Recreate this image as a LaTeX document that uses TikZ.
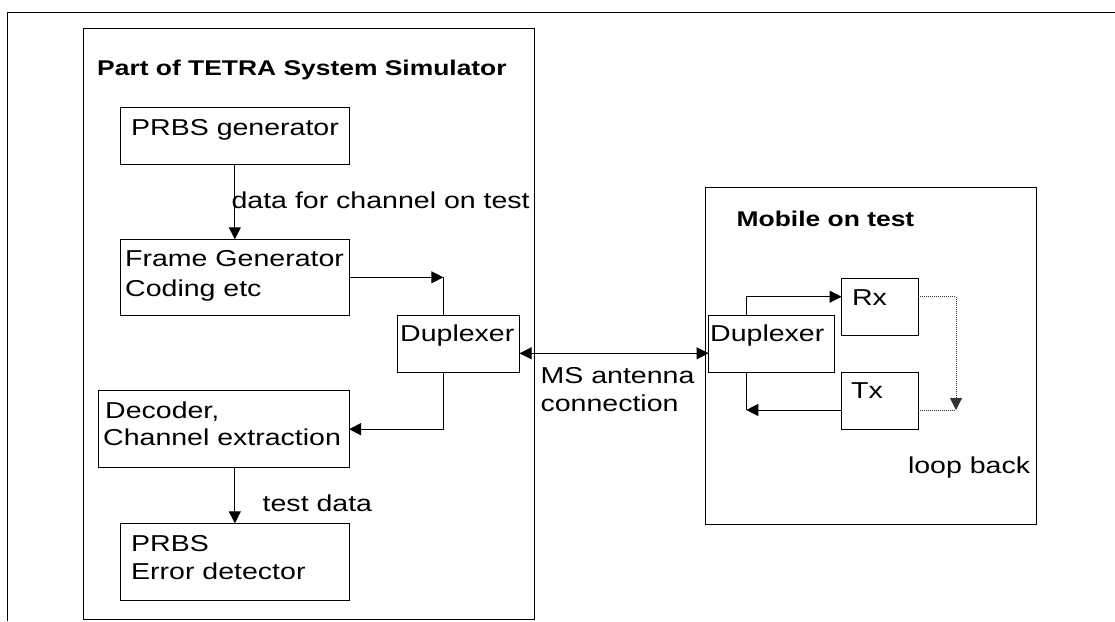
\documentclass[tikz,border=0pt]{standalone}
\usepackage{fontspec}
\setmainfont{Liberation Sans}[FakeStretch=1.24]
\usetikzlibrary{arrows.meta,fit}
\tikzset{
  box/.style={draw, line width=1pt, inner sep=0pt, outer sep=0pt},
  txt/.style={anchor=base west, inner sep=0pt, font=\fontsize{23}{27}\selectfont},
  ttl/.style={anchor=base west, inner sep=0pt, font=\fontsize{21.3}{26}\selectfont\bfseries},
  con/.style={line width=1pt},
  tip/.tip={Triangle[length=12pt,width=12pt]},
  arr/.style={con, -tip},
  darr/.style={con, tip-tip},
  loopline/.style={line width=1pt, densely dotted, black!80}
}
\newcommand{\boxat}[3]{\path (#2) coordinate (#1-a) (#3) coordinate (#1-b);
  \node[box, fit=(#1-a)(#1-b)] (#1) {};}
\begin{document}
\begin{tikzpicture}[x=1pt,y=-1pt]
\useasboundingbox (0,0) rectangle (1115,621);
% outer frame
\coordinate (o1) at (7.5,621);
\coordinate (o2) at (7.5,12.5);
\coordinate (o3) at (1115,12.5);
\draw[con] (o1) -- (o2) -- (o3);
% boxes
\boxat{sim}{83,28}{534.5,619.5}
\boxat{prbs}{120.7,107}{349,164.7}
\boxat{frame}{120.7,239.3}{349,315}
\boxat{dupL}{397.5,315.7}{519.6,372.3}
\boxat{dec}{98.6,390.7}{349,467.7}
\boxat{err}{120.7,523.3}{349,600}
\boxat{mob}{705,187.3}{1036.7,524}
\boxat{dupR}{708.6,315.7}{834.9,372.3}
\boxat{rx}{841.6,278}{918,335}
\boxat{tx}{841.6,372.7}{918,429.3}
% texts
\node[ttl] (simT) at (97,75) {Part of TETRA System Simulator};
\node[txt] (prbsT) at (131,135) {PRBS generator};
\node[txt] (frameT1) at (125,266.7) {Frame Generator};
\node[txt] (frameT2) at (125,296.7) {Coding etc};
\node[txt] (dupLT) at (400,341.7) {Duplexer};
\node[txt] (decT1) at (105,418.3) {Decoder,};
\node[txt] (decT2) at (103,445.7) {Channel extraction};
\node[txt] (errT1) at (131,551.7) {PRBS};
\node[txt] (errT2) at (131,579.3) {Error detector};
\node[txt] (dataL) at (231.4,208.3) {data for channel on test};
\node[txt] (testL) at (262.5,511.7) {test data};
\node[ttl] (mobT) at (736.5,226.7) {Mobile on test};
\node[txt] (dupRT) at (710,341.7) {Duplexer};
\node[txt] (rxT) at (851.8,305) {Rx};
\node[txt] (txT) at (851,398.3) {Tx};
\node[txt] (msL1) at (540.4,383.3) {MS antenna};
\node[txt] (msL2) at (540.4,411.7) {connection};
\node[txt] (loopL) at (907.8,473.3) {loop back};
% connector corners
\coordinate (c1) at (443.3,277.3);
\coordinate (c2) at (443.3,429.2);
\coordinate (ant) at (610,353.3);
\coordinate (c3) at (746.3,296.7);
\coordinate (c4) at (746.3,410);
\coordinate (c5) at (956,296.7);
\coordinate (c6) at (956,410);
% connectors
\draw[arr] (prbs.south) -- (frame.north);
\draw[arr] (frame.east |- c1) -- (c1);
\draw[con] (c1) -- (dupL.north -| c1);
\draw[arr] (dupL.south -| c2) -- (c2) -- (dec.east |- c2);
\draw[arr] (dec.south -| prbs.south) -- (err.north);
\draw[darr] (dupL.east |- ant) -- (dupR.west |- ant);
\draw[arr] (dupR.north -| c3) -- (c3) -- (rx.west |- c3);
\draw[arr] (tx.west |- c4) -- (c4);
\draw[con] (c4) -- (dupR.south -| c4);
\draw[loopline] (rx.east |- c5) -- (c5);
\draw[loopline, -tip] (c5) -- (c6);
\draw[loopline] (tx.east |- c6) -- (c6);
\end{tikzpicture}
\end{document}
